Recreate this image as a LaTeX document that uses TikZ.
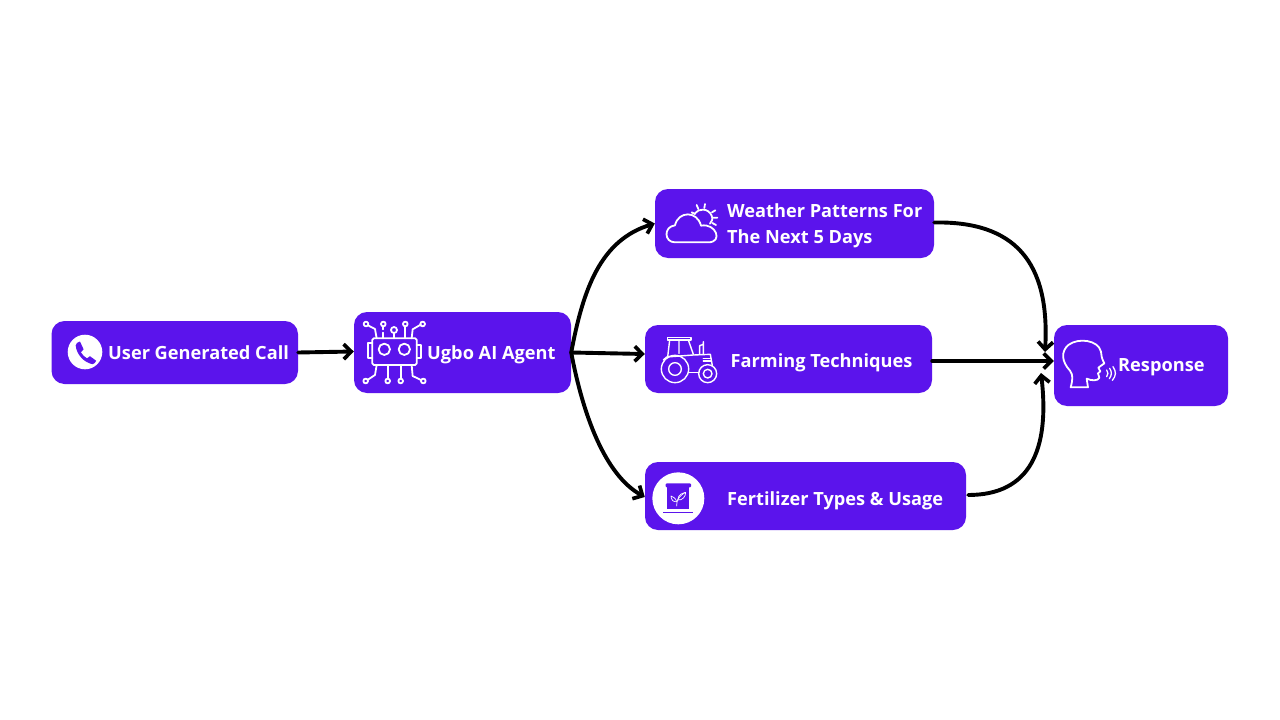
\documentclass[tikz,border=0pt]{standalone}
\usepackage{fontspec}
\setmainfont{Open Sans}
\usetikzlibrary{arrows.meta}
\definecolor{brand}{HTML}{5B14EC}
\tikzset{
  box/.style={fill=brand,rounded corners=13pt,inner sep=0pt,draw=none},
  lbl/.style={text=white,inner sep=0pt,anchor=base west,font=\fontsize{18.2}{26}\selectfont\bfseries,align=left},
  flow/.style={line width=3.9pt,draw=black,line cap=round,-{Straight Barb[length=7.5pt,width=15pt,line width=3.7pt]}},
  ico/.style={draw=white,line width=1.8pt,line cap=round,line join=round,fill=none},
  zm/.style={x=.3333pt,y=-.3333pt},
}
\begin{document}
\begin{tikzpicture}[x=1pt,y=-1pt]
\useasboundingbox (0,0) rectangle (1280,720);
\fill[white] (0,0) rectangle (1280,720);
% boxes
\node[box,minimum width=246.5pt,minimum height=63pt] (A) at (174.75,352.5) {};
\node[box,minimum width=217pt,minimum height=81pt] (B) at (462.5,352.5) {};
\node[box,minimum width=279pt,minimum height=69pt] (C) at (794.5,223.5) {};
\node[box,minimum width=287pt,minimum height=68pt] (D) at (788.5,359) {};
\node[box,minimum width=321pt,minimum height=68pt] (E) at (805.5,496) {};
\node[box,minimum width=174pt,minimum height=81pt] (F) at (1141,365.5) {};
% labels
\node[lbl] (ta) at (108,359) {User Generated Call};
\node[lbl] (tb) at (427,359.3) {Ugbo AI Agent};
\node[lbl,anchor=west] (tc) at (727,226) {Weather Patterns For\\The Next 5 Days};
\node[lbl] (td) at (730.5,367.7) {Farming Techniques};
\node[lbl] (te) at (727,505) {Fertilizer Types \& Usage};
\node[lbl] (tf) at (1118,371.7) {Response};
% connectors
\draw[flow] (A.east) -- ([yshift=1pt]B.west);
\draw[flow] (B.east) .. controls (583,290) and (600,240) .. (C.west);
\draw[flow] (B.east) -- ([yshift=5pt]D.west);
\draw[flow] (B.east) .. controls (583,415) and (605,475) .. ([yshift=-1pt]E.west);
\coordinate (in1) at (1045,352);
\coordinate (in2) at (1041,373);
\draw[flow] ([yshift=1pt]C.east) .. controls (1015,221) and (1050,262) .. (in1);
\draw[flow] ([yshift=-2pt]D.east) -- ([yshift=4.5pt]F.west);
\draw[flow] ([xshift=2pt,yshift=1pt]E.east) .. controls (1030,495) and (1050,450) .. (in2);
% phone
\fill[white] (85,352) circle (17.3);
\fill[brand] (75.7,345.5) .. controls (75.5,343.5) and (78,342) .. (80,341.5) -- (83.6,349.3) -- (80.9,352.3)
  .. controls (82.5,355) and (84.5,357) .. (87,358.3) -- (90,356.2) -- (96.2,360.8)
  .. controls (95.5,362.5) and (94,364) .. (92.5,364.2) .. controls (84,362.5) and (76.5,354.5) .. cycle;
% robot
\begin{scope}[shift={(340,300)},zm]
\draw[ico,rounded corners=1.5pt] (97,115) rectangle (230,195);
\draw[ico] (133,148) circle (17) (193,148) circle (17);
\draw[ico] (97,130) -- (85,130) -- (85,175) -- (97,175);
\draw[ico] (230,135) -- (243,135) -- (243,175) -- (230,175);
\draw[ico] (84,76) -- (105,87) -- (110,115);
\draw[ico] (130,80) -- (130,88) (130,98) -- (130,115);
\draw[ico] (162,100) -- (162,115);
\draw[ico] (196,80) -- (196,115);
\draw[ico] (242,74) -- (218,88) -- (215,115);
\draw[ico] (110,195) -- (105,225) -- (84,239);
\draw[ico] (143,195) -- (143,236);
\draw[ico] (182,195) -- (182,236);
\draw[ico] (215,195) -- (218,228) -- (243,240);
\draw[ico] (78,72) circle (7) (130,72) circle (7) (162,90) circle (9) (196,72) circle (7) (248,72) circle (7);
\draw[ico] (77,243) circle (7) (143,243) circle (7) (182,243) circle (7) (250,243) circle (7);
\end{scope}
% weather
\begin{scope}[shift={(640,180)},zm]
\draw[ico] (105,187) .. controls (72,187) and (70,140) .. (105,136) .. controls (115,92) and (172,92) .. (183,137)
  .. controls (228,128) and (250,187) .. (205,187) -- cycle;
\draw[ico] (165,100) .. controls (174,85) and (205,83) .. (215,107) .. controls (219,117) and (216,125) .. (210,131);
\draw[ico] (155,97) -- (165,102) (170,75) -- (175,87) (195,72) -- (193,84) (226,91) -- (216,97) (232,113) -- (220,113) (228,135) -- (217,129);
\end{scope}
% tractor
\begin{scope}[shift={(635,315),},zm]
\draw[ico,line width=1.4pt] (97,68) -- (168,68) -- (168,75) -- (97,75) -- cycle;
\draw[ico,line width=1.4pt] (104,75) -- (98,126) (160,75) -- (175,118) (132,77) -- (132,115);
\draw[ico,line width=1.4pt] (85,135) -- (95,126) -- (175,120) -- (226,118) -- (232,152);
\draw[ico,line width=1.4pt] (120,162) circle (41) (120,162) circle (19);
\draw[ico,line width=1.4pt] (218,176) circle (27) (218,176) circle (13);
\draw[ico,line width=1.4pt] (194,118) -- (194,92) -- (205,88) -- (205,118) (205,80) -- (205,88);
\draw[ico,line width=1.4pt] (160,172) -- (192,172) (205,130) -- (228,130) (205,138) -- (228,138);
\end{scope}
% bag
\begin{scope}[shift={(635,450)},zm]
\fill[white] (130,145) circle (78);
\fill[brand,rounded corners=1pt] (92,100) rectangle (168,112);
\fill[brand] (97,112) rectangle (163,178);
\fill[brand] (85,185) rectangle (175,189);
\draw[white,line width=.7pt,line cap=round] (125,168) .. controls (125,150) and (130,140) .. (150,128);
\draw[white,line width=.7pt,line join=round] (128,150) .. controls (130,130) and (145,130) .. (152,127) .. controls (152,140) and (142,152) .. (128,150);
\draw[white,line width=.7pt,line join=round] (125,155) .. controls (122,145) and (115,140) .. (108,138) .. controls (108,150) and (116,157) .. (125,155);
\end{scope}
% head
\begin{scope}[shift={(1020,310)},zm]
\draw[ico] (152,232) .. controls (158,210) and (160,195) .. (150,182) .. controls (125,155) and (122,125) .. (145,105)
  .. controls (175,82) and (235,90) .. (243,125) .. controls (245,135) and (243,142) .. (253,160) -- (235,173) -- (241,184) -- (234,190) -- (238,203)
  .. controls (235,213) and (215,213) .. (200,206) -- (204,232) -- cycle;
\draw[ico,line width=1.3pt] (260,180) .. controls (265,187) and (265,193) .. (260,200);
\draw[ico,line width=1.3pt] (269,175) .. controls (276,186) and (276,195) .. (268,206);
\draw[ico,line width=1.3pt] (279,170) .. controls (289,185) and (289,197) .. (277,211);
\end{scope}
\end{tikzpicture}
\end{document}
